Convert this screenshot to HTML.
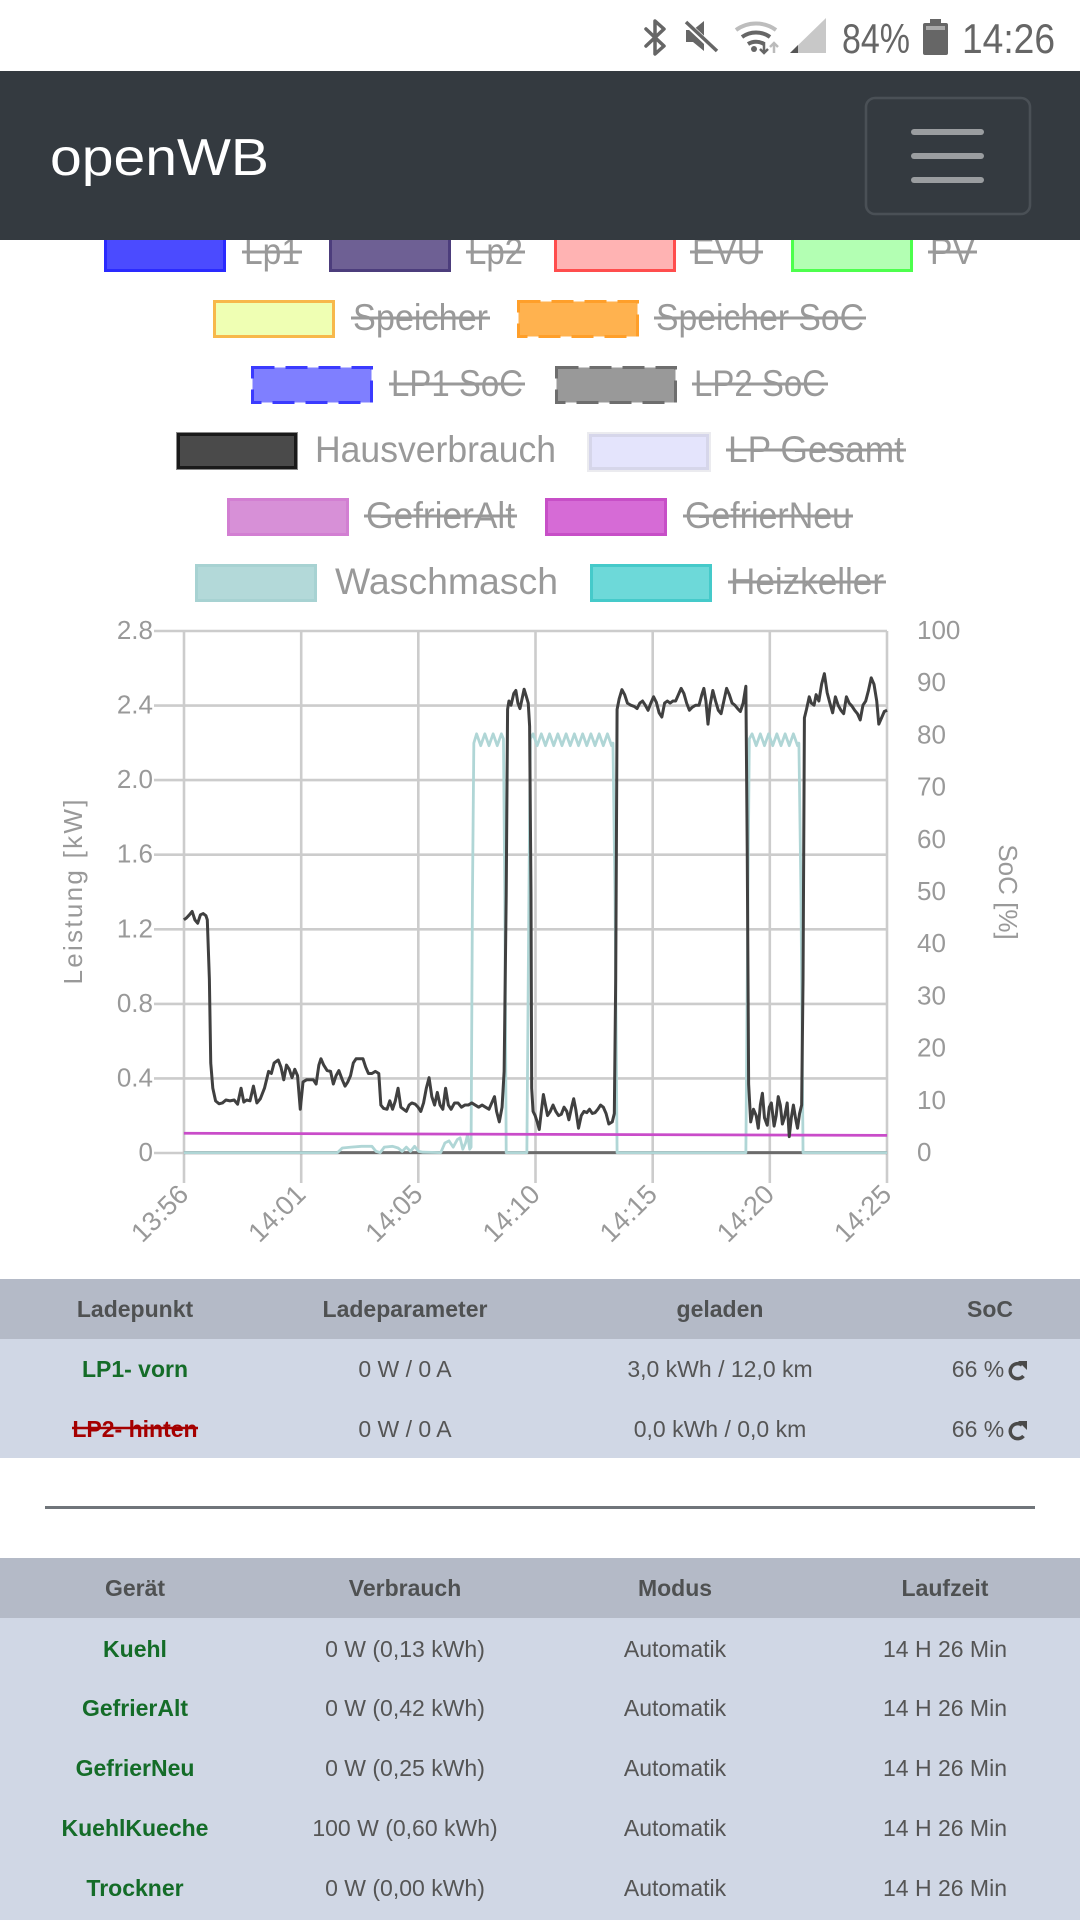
<!DOCTYPE html>
<html>
<head>
<meta charset="utf-8">
<style>
  html,body{margin:0;padding:0;background:#fff;}
  body{width:1080px;height:1920px;overflow:hidden;}
  svg{display:block;}
  text{font-family:"Liberation Sans",Arial,sans-serif;}
</style>
</head>
<body>
<svg width="1080" height="1920" viewBox="0 0 1080 1920" xmlns="http://www.w3.org/2000/svg">
  <rect x="0" y="0" width="1080" height="1920" fill="#ffffff"/>

  <!-- ============ LEGEND ============ -->
  <g font-size="37" fill="#999999">
    <!-- Row 1 (y 234) -->
    <rect x="105.5" y="235.5" width="119" height="35" fill="#4b4bff" stroke="#2a2aff" stroke-width="3"/>
    <text x="244" y="264" textLength="56" lengthAdjust="spacingAndGlyphs">Lp1</text>
    <line x1="242" y1="252" x2="302" y2="252" stroke="#999" stroke-width="3"/>
    <rect x="330.5" y="235.5" width="119" height="35" fill="#6e6094" stroke="#4c3d7c" stroke-width="3"/>
    <text x="468" y="264" textLength="55" lengthAdjust="spacingAndGlyphs">Lp2</text>
    <line x1="466" y1="252" x2="525" y2="252" stroke="#999" stroke-width="3"/>
    <rect x="555.5" y="235.5" width="119" height="35" fill="#ffb3b3" stroke="#ff4d4d" stroke-width="3"/>
    <text x="692" y="264" textLength="69" lengthAdjust="spacingAndGlyphs">EVU</text>
    <line x1="690" y1="252" x2="763" y2="252" stroke="#999" stroke-width="3"/>
    <rect x="792.5" y="235.5" width="119" height="35" fill="#b3ffb3" stroke="#4dff4d" stroke-width="3"/>
    <text x="930" y="264" textLength="45" lengthAdjust="spacingAndGlyphs">PV</text>
    <line x1="928" y1="252" x2="977" y2="252" stroke="#999" stroke-width="3"/>

    <!-- Row 2 (y 300) -->
    <rect x="214.5" y="301.5" width="119" height="35" fill="#efffb3" stroke="#f7b84b" stroke-width="3"/>
    <text x="353" y="330" textLength="135" lengthAdjust="spacingAndGlyphs">Speicher</text>
    <line x1="351" y1="318" x2="490" y2="318" stroke="#999" stroke-width="3"/>
    <rect x="518.5" y="301.5" width="119" height="35" fill="#ffb24f" stroke="#ff9f2a" stroke-width="3" stroke-dasharray="22 11"/>
    <text x="656" y="330" textLength="208" lengthAdjust="spacingAndGlyphs">Speicher SoC</text>
    <line x1="654" y1="318" x2="866" y2="318" stroke="#999" stroke-width="3"/>

    <!-- Row 3 (y 366) -->
    <rect x="252.5" y="367.5" width="119" height="35" fill="#7f7fff" stroke="#3b3bff" stroke-width="3" stroke-dasharray="22 11"/>
    <text x="391" y="396" textLength="132" lengthAdjust="spacingAndGlyphs">LP1 SoC</text>
    <line x1="389" y1="384" x2="525" y2="384" stroke="#999" stroke-width="3"/>
    <rect x="556.5" y="367.5" width="119" height="35" fill="#999999" stroke="#6e6e6e" stroke-width="3" stroke-dasharray="22 11"/>
    <text x="694" y="396" textLength="132" lengthAdjust="spacingAndGlyphs">LP2 SoC</text>
    <line x1="692" y1="384" x2="828" y2="384" stroke="#999" stroke-width="3"/>

    <!-- Row 4 (y 432) -->
    <rect x="176" y="432" width="122" height="38" fill="#8a8a8a"/>
    <rect x="178.5" y="434.5" width="117" height="33" fill="#4a4a4a" stroke="#1a1a1a" stroke-width="3"/>
    <text x="315" y="462" textLength="241" lengthAdjust="spacingAndGlyphs">Hausverbrauch</text>
    <rect x="587" y="432" width="124" height="40" fill="#ebebef"/>
    <rect x="590.5" y="435.5" width="117" height="33" fill="#e4e4fc" stroke="#d6d6ea" stroke-width="3"/>
    <text x="728" y="462" textLength="176" lengthAdjust="spacingAndGlyphs">LP Gesamt</text>
    <line x1="726" y1="450" x2="906" y2="450" stroke="#999" stroke-width="3"/>

    <!-- Row 5 (y 498) -->
    <rect x="228.5" y="499.5" width="119" height="35" fill="#d790d7" stroke="#d27fd2" stroke-width="3"/>
    <text x="366" y="528" textLength="149" lengthAdjust="spacingAndGlyphs">GefrierAlt</text>
    <line x1="364" y1="516" x2="517" y2="516" stroke="#999" stroke-width="3"/>
    <rect x="546.5" y="499.5" width="119" height="35" fill="#d66bd6" stroke="#c74fc7" stroke-width="3"/>
    <text x="685" y="528" textLength="166" lengthAdjust="spacingAndGlyphs">GefrierNeu</text>
    <line x1="683" y1="516" x2="853" y2="516" stroke="#999" stroke-width="3"/>

    <!-- Row 6 (y 564) -->
    <rect x="196.5" y="565.5" width="119" height="35" fill="#b3d9d9" stroke="#a7d2d2" stroke-width="3"/>
    <text x="335" y="594" textLength="223" lengthAdjust="spacingAndGlyphs">Waschmasch</text>
    <rect x="591.5" y="565.5" width="119" height="35" fill="#6dd9d9" stroke="#45caca" stroke-width="3"/>
    <text x="730" y="594" textLength="154" lengthAdjust="spacingAndGlyphs">Heizkeller</text>
    <line x1="728" y1="582" x2="886" y2="582" stroke="#999" stroke-width="3"/>
  </g>

  <!-- ============ STATUS BAR ============ -->
  <rect x="0" y="0" width="1080" height="71" fill="#ffffff"/>
  <!-- bluetooth -->
  <path d="M646,29 L664,46 L655,54 L655,21 L664,29 L646,46" fill="none" stroke="#666" stroke-width="3.5" stroke-linejoin="round" stroke-linecap="round"/>
  <!-- muted speaker -->
  <path d="M686,30 L693,30 L704,21 L704,51 L693,42 L686,42 Z" fill="#666"/>
  <line x1="685" y1="22" x2="717" y2="52" stroke="#fff" stroke-width="6"/>
  <line x1="686" y1="22" x2="717" y2="51" stroke="#666" stroke-width="3.5"/>
  <!-- wifi -->
  <path d="M736,30 A34,34 0 0 1 776,30" fill="none" stroke="#bdbdbd" stroke-width="4"/>
  <path d="M742,37 A24,24 0 0 1 770,37" fill="none" stroke="#666" stroke-width="4"/>
  <path d="M748,44 A15,15 0 0 1 764,44" fill="none" stroke="#666" stroke-width="4"/>
  <circle cx="754" cy="49" r="3" fill="#666"/>
  <path d="M764,42 L764,53 M760,49 L764,53 L768,49" fill="none" stroke="#666" stroke-width="2.5"/>
  <path d="M774,53 L774,43 M770,47 L774,43 L778,47" fill="none" stroke="#bbb" stroke-width="2.5"/>
  <!-- signal -->
  <path d="M826,18 L826,53 L790,53 Z" fill="#c8c8c8"/>
  <path d="M790,53 L798,53 L798,45 Z" fill="#555"/>
  <!-- 84% -->
  <text x="842" y="53" font-size="42" fill="#666" textLength="68" lengthAdjust="spacingAndGlyphs">84%</text>
  <!-- battery -->
  <rect x="930" y="19" width="11" height="5" fill="#666"/>
  <rect x="923" y="23" width="25" height="32" rx="2" fill="#666"/>
  <rect x="926" y="26" width="19" height="4" fill="#aaa"/>
  <!-- time -->
  <text x="962" y="53" font-size="42" fill="#666" textLength="93" lengthAdjust="spacingAndGlyphs">14:26</text>

  <!-- ============ NAVBAR ============ -->
  <rect x="0" y="71" width="1080" height="169" fill="#343a40"/>
  <text x="50" y="175" font-size="52" fill="#ffffff" textLength="219" lengthAdjust="spacingAndGlyphs">openWB</text>
  <rect x="866" y="98" width="164" height="116" rx="9" fill="none" stroke="#4a5056" stroke-width="2.6"/>
  <g stroke="#9a9da0" stroke-width="6" stroke-linecap="round">
    <line x1="914" y1="132" x2="981" y2="132"/>
    <line x1="914" y1="156" x2="981" y2="156"/>
    <line x1="914" y1="180" x2="981" y2="180"/>
  </g>

  <!-- ============ CHART ============ -->
  <g stroke="#cccccc" stroke-width="2.6">
    <line x1="154" y1="631" x2="887" y2="631"/>
    <line x1="154" y1="705.6" x2="887" y2="705.6"/>
    <line x1="154" y1="780.1" x2="887" y2="780.1"/>
    <line x1="154" y1="854.7" x2="887" y2="854.7"/>
    <line x1="154" y1="929.3" x2="887" y2="929.3"/>
    <line x1="154" y1="1003.9" x2="887" y2="1003.9"/>
    <line x1="154" y1="1078.4" x2="887" y2="1078.4"/>
    <line x1="154" y1="1153" x2="887" y2="1153"/>
    <line x1="184" y1="631" x2="184" y2="1183"/>
    <line x1="301.2" y1="631" x2="301.2" y2="1183"/>
    <line x1="418.3" y1="631" x2="418.3" y2="1183"/>
    <line x1="535.5" y1="631" x2="535.5" y2="1183"/>
    <line x1="652.7" y1="631" x2="652.7" y2="1183"/>
    <line x1="769.8" y1="631" x2="769.8" y2="1183"/>
    <line x1="887" y1="631" x2="887" y2="1183"/>
  </g>

  <g font-size="26" fill="#999999" text-anchor="end">
    <text x="153" y="639">2.8</text>
    <text x="153" y="713.6">2.4</text>
    <text x="153" y="788.1">2.0</text>
    <text x="153" y="862.7">1.6</text>
    <text x="153" y="937.3">1.2</text>
    <text x="153" y="1011.9">0.8</text>
    <text x="153" y="1086.4">0.4</text>
    <text x="153" y="1161">0</text>
  </g>
  <g font-size="26" fill="#999999">
    <text x="917" y="639">100</text>
    <text x="917" y="691.2">90</text>
    <text x="917" y="743.4">80</text>
    <text x="917" y="795.6">70</text>
    <text x="917" y="847.8">60</text>
    <text x="917" y="900">50</text>
    <text x="917" y="952.2">40</text>
    <text x="917" y="1004.4">30</text>
    <text x="917" y="1056.6">20</text>
    <text x="917" y="1108.8">10</text>
    <text x="917" y="1161">0</text>
  </g>
  <text transform="translate(82,892) rotate(-90)" font-size="26" fill="#999999" text-anchor="middle" textLength="185" lengthAdjust="spacing">Leistung [kW]</text>
  <text transform="translate(999,892) rotate(90)" font-size="26" fill="#999999" text-anchor="middle">SoC [%]</text>

  <g font-size="27" fill="#999999" text-anchor="end">
    <text transform="translate(190,1196) rotate(-45)">13:56</text>
    <text transform="translate(307.2,1196) rotate(-45)">14:01</text>
    <text transform="translate(424.3,1196) rotate(-45)">14:05</text>
    <text transform="translate(541.5,1196) rotate(-45)">14:10</text>
    <text transform="translate(658.7,1196) rotate(-45)">14:15</text>
    <text transform="translate(775.8,1196) rotate(-45)">14:20</text>
    <text transform="translate(893,1196) rotate(-45)">14:25</text>
  </g>

  <g transform="translate(0,600) scale(0.68871,0.42088)" fill="none" stroke-linejoin="round">
    <path vector-effect="non-scaling-stroke" stroke="#6b6b6b" stroke-width="3" d="M267,1313 L1288,1313"/>
    <path vector-effect="non-scaling-stroke" stroke="#b0d6d6" stroke-width="2.8" d="M267,1313 L490,1313 L497,1302 L510,1300 L525,1298 L540,1298 L546,1310 L552,1313 L558,1300 L570,1298 L578,1302 L584,1310 L590,1300 L596,1310 L602,1298 L608,1310 L614,1312 L640,1313 L646,1290 L652,1285 L658,1300 L664,1282 L668,1278 L672,1305 L676,1290 L679,1270 L682,1305 L684,1300 L686,700 L688,340 L692,318 L698,346 L704,318 L710,346 L716,318 L722,346 L728,318 L731,330 L733,700 L735,1313 L765,1313 L768,700 L770,330 L774,318 L780,346 L786,318 L792,346 L798,318 L804,346 L810,318 L816,346 L822,318 L828,346 L834,318 L840,346 L846,318 L852,346 L858,318 L864,346 L870,318 L876,346 L882,318 L888,346 L890,340 L893,700 L896,1313 L1083,1313 L1086,700 L1088,330 L1092,318 L1098,346 L1104,318 L1110,346 L1116,318 L1122,346 L1128,318 L1134,346 L1140,318 L1146,346 L1152,318 L1158,346 L1160,340 L1163,700 L1166,1313 L1288,1313"/>
    <path vector-effect="non-scaling-stroke" stroke="#c94cc9" stroke-width="2.8" d="M267,1267 L1288,1272"/>
    <path vector-effect="non-scaling-stroke" stroke="#404040" stroke-width="3" d="M267,760 L271,755 L275,748 L279,740 L283,760 L287,768 L291,748 L295,745 L299,750 L301,760 L304,900 L306,1100 L309,1160 L313,1190 L318,1197 L323,1195 L328,1188 L334,1190 L340,1188 L345,1198 L350,1160 L354,1193 L358,1188 L363,1190 L368,1155 L373,1195 L378,1185 L384,1160 L390,1120 L394,1125 L398,1100 L404,1093 L408,1110 L412,1140 L416,1105 L420,1115 L424,1135 L428,1115 L432,1130 L436,1210 L440,1145 L445,1140 L450,1140 L455,1140 L459,1150 L463,1105 L466,1090 L470,1105 L475,1118 L480,1120 L484,1150 L488,1130 L492,1118 L497,1140 L501,1155 L505,1145 L509,1130 L513,1100 L517,1090 L522,1090 L527,1090 L531,1110 L535,1125 L540,1125 L545,1120 L550,1125 L553,1200 L557,1208 L562,1210 L566,1190 L570,1210 L574,1190 L578,1160 L582,1205 L586,1210 L590,1215 L594,1200 L598,1195 L603,1198 L607,1205 L611,1215 L615,1195 L619,1160 L623,1135 L627,1180 L631,1200 L635,1170 L639,1200 L643,1210 L647,1160 L651,1200 L655,1210 L660,1195 L665,1195 L670,1205 L675,1200 L680,1200 L685,1195 L690,1200 L695,1205 L700,1200 L705,1205 L710,1210 L714,1195 L718,1180 L721,1215 L725,1240 L729,1205 L732,1120 L735,700 L737,260 L739,240 L742,250 L746,222 L749,215 L752,245 L755,258 L758,235 L761,212 L764,228 L767,245 L769,300 L771,700 L772,1160 L774,1215 L777,1225 L780,1240 L783,1258 L786,1215 L789,1175 L792,1200 L795,1225 L799,1215 L803,1200 L807,1215 L811,1225 L815,1222 L819,1205 L823,1215 L826,1235 L830,1205 L833,1185 L836,1210 L840,1255 L844,1225 L848,1215 L852,1218 L856,1210 L860,1220 L864,1218 L868,1210 L872,1200 L876,1205 L880,1220 L884,1245 L889,1240 L892,1220 L894,900 L896,260 L899,235 L903,213 L907,225 L911,245 L916,250 L921,253 L925,258 L929,245 L933,240 L937,250 L941,262 L945,245 L949,230 L953,243 L957,268 L961,278 L965,245 L969,240 L973,245 L977,240 L981,240 L985,225 L989,210 L993,222 L997,245 L1001,262 L1005,255 L1010,250 L1015,250 L1019,225 L1022,210 L1025,240 L1028,295 L1031,250 L1035,215 L1039,240 L1043,262 L1047,270 L1051,240 L1055,210 L1059,225 L1063,245 L1067,250 L1071,258 L1075,265 L1079,245 L1083,205 L1085,600 L1087,1150 L1090,1240 L1094,1210 L1098,1225 L1101,1255 L1104,1200 L1107,1172 L1110,1230 L1114,1248 L1117,1205 L1120,1195 L1124,1250 L1127,1225 L1130,1180 L1133,1200 L1136,1245 L1139,1230 L1143,1195 L1146,1275 L1149,1230 L1152,1200 L1155,1230 L1158,1255 L1161,1220 L1164,1200 L1166,900 L1168,280 L1171,260 L1175,230 L1178,245 L1182,250 L1185,225 L1189,240 L1193,200 L1197,175 L1201,220 L1205,245 L1209,268 L1213,230 L1217,250 L1221,262 L1225,270 L1229,230 L1233,245 L1237,252 L1241,262 L1245,270 L1249,285 L1253,250 L1257,240 L1261,215 L1265,185 L1269,200 L1273,240 L1276,295 L1280,280 L1284,265 L1288,262"/>
  </g>

  <!-- ============ TABLE 1 ============ -->
  <rect x="0" y="1279" width="1080" height="60" fill="#b4bac7"/>
  <rect x="0" y="1339" width="1080" height="119" fill="#d0d7e5"/>
  <g font-size="23" font-weight="bold" fill="#4f5152" text-anchor="middle">
    <text x="135" y="1317">Ladepunkt</text>
    <text x="405" y="1317">Ladeparameter</text>
    <text x="720" y="1317">geladen</text>
    <text x="990" y="1317">SoC</text>
  </g>
  <g font-size="23" font-weight="bold" text-anchor="middle">
    <text x="135" y="1377" fill="#146c28">LP1- vorn</text>
    <text x="135" y="1437" fill="#a50000">LP2- hinten</text>
  </g>
  <line x1="72" y1="1428" x2="198" y2="1428" stroke="#a50000" stroke-width="2.5"/>
  <g font-size="23" fill="#555555" text-anchor="middle">
    <text x="405" y="1377">0 W / 0 A</text>
    <text x="405" y="1437">0 W / 0 A</text>
    <text x="720" y="1377">3,0 kWh / 12,0 km</text>
    <text x="720" y="1437">0,0 kWh / 0,0 km</text>
    <text x="978" y="1377">66 %</text>
    <text x="978" y="1437">66 %</text>
  </g>
  <g fill="none" stroke="#4a4a4a" stroke-width="3.5">
    <path d="M1022,1365 A7.5,7.5 0 1 0 1023.5,1376"/>
    <path d="M1022,1425 A7.5,7.5 0 1 0 1023.5,1436"/>
  </g>
  <g fill="#4a4a4a">
    <path d="M1018,1361 L1027,1361 L1027,1370 Z"/>
    <path d="M1018,1421 L1027,1421 L1027,1430 Z"/>
  </g>

  <rect x="45" y="1506" width="990" height="3" fill="#70757a"/>

  <!-- ============ TABLE 2 ============ -->
  <rect x="0" y="1558" width="1080" height="60" fill="#b4bac7"/>
  <rect x="0" y="1618" width="1080" height="302" fill="#d0d7e5"/>
  <g font-size="23" font-weight="bold" fill="#4f5152" text-anchor="middle">
    <text x="135" y="1596">Gerät</text>
    <text x="405" y="1596">Verbrauch</text>
    <text x="675" y="1596">Modus</text>
    <text x="945" y="1596">Laufzeit</text>
  </g>
  <g font-size="23" font-weight="bold" fill="#146c28" text-anchor="middle">
    <text x="135" y="1657">Kuehl</text>
    <text x="135" y="1716">GefrierAlt</text>
    <text x="135" y="1776">GefrierNeu</text>
    <text x="135" y="1836">KuehlKueche</text>
    <text x="135" y="1896">Trockner</text>
  </g>
  <g font-size="23" fill="#555555" text-anchor="middle">
    <text x="405" y="1657">0 W (0,13 kWh)</text>
    <text x="405" y="1716">0 W (0,42 kWh)</text>
    <text x="405" y="1776">0 W (0,25 kWh)</text>
    <text x="405" y="1836">100 W (0,60 kWh)</text>
    <text x="405" y="1896">0 W (0,00 kWh)</text>
    <text x="675" y="1657">Automatik</text>
    <text x="675" y="1716">Automatik</text>
    <text x="675" y="1776">Automatik</text>
    <text x="675" y="1836">Automatik</text>
    <text x="675" y="1896">Automatik</text>
    <text x="945" y="1657">14 H 26 Min</text>
    <text x="945" y="1716">14 H 26 Min</text>
    <text x="945" y="1776">14 H 26 Min</text>
    <text x="945" y="1836">14 H 26 Min</text>
    <text x="945" y="1896">14 H 26 Min</text>
  </g>
</svg>
</body>
</html>
